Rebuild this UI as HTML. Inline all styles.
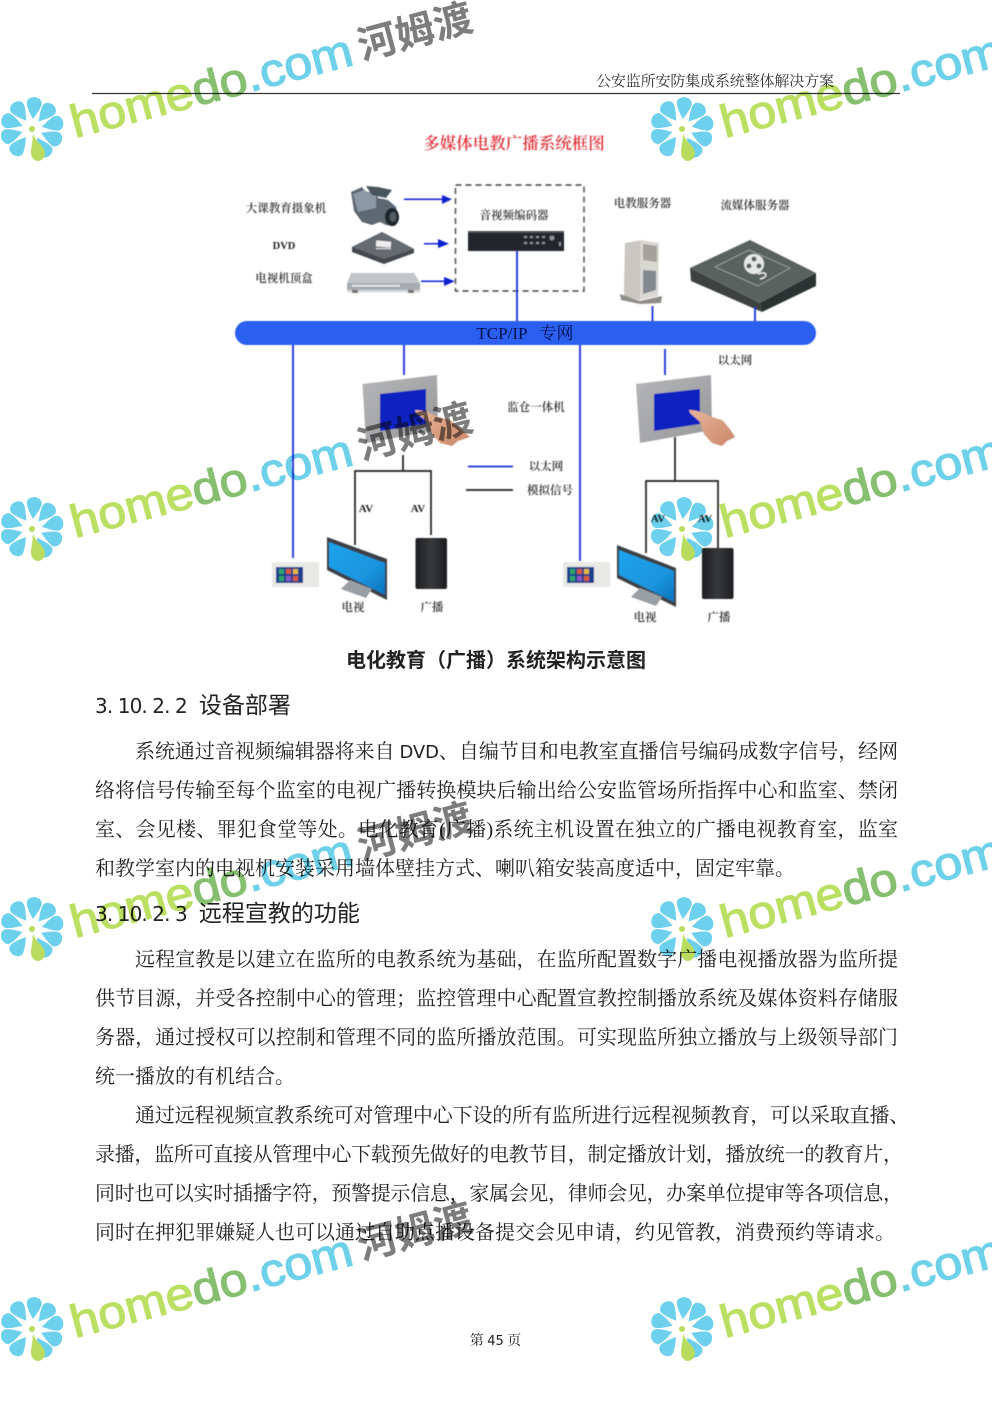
<!DOCTYPE html>
<html lang="zh"><head><meta charset="utf-8"><title>电化教育（广播）系统架构示意图</title>
<style>
html,body{margin:0;padding:0;background:#fff}
#p{position:relative;width:992px;height:1403px;overflow:hidden;background:#fff}
.l{position:absolute;left:95px;width:803px;height:30px;font:20px/30px "Liberation Serif","Noto Serif CJK SC",serif;color:#222;white-space:nowrap;text-align:justify;text-align-last:justify}
.l.n{text-align:left;text-align-last:left}
.l.i{left:135px;width:763px}
.l b{font:400 18px "DejaVu Sans",sans-serif}
.h{position:absolute;left:95px;height:30px;font:23px/30px "Noto Sans CJK SC",sans-serif;color:#222;white-space:nowrap}
.h span{font:20px "DejaVu Sans",sans-serif;letter-spacing:-.9px;margin-right:12px}
svg{position:absolute;left:0;top:0}
#wm{mix-blend-mode:multiply}
.t{font-family:"Liberation Serif","Noto Serif CJK SC",serif;font-weight:600;font-size:11.5px;fill:#333;text-anchor:middle}
.a{font-weight:700;fill:#222;font-size:11px}
.w{font-family:"Liberation Sans",sans-serif;font-size:46px;fill:#bbdf63;stroke:#bbdf63;stroke-width:1.2}
.k{font-family:"Noto Sans CJK SC",sans-serif;font-weight:700;font-size:39px;fill:#7d7d7d}
</style></head><body><div id="p">
<svg width="992" height="1403" viewBox="0 0 992 1403">
<defs><filter id="b" x="-5%" y="-5%" width="110%" height="110%"><feGaussianBlur stdDeviation="0.45"/></filter>
<linearGradient id="tv" x1="0" y1="0" x2="1" y2="1"><stop offset="0" stop-color="#1ba3ec"/><stop offset=".65" stop-color="#1a94de"/><stop offset="1" stop-color="#0b72bd"/></linearGradient>
<linearGradient id="sp" x1="0" y1="0" x2="1" y2="0"><stop offset="0" stop-color="#1c1e20"/><stop offset=".5" stop-color="#383a3c"/><stop offset="1" stop-color="#1c1e20"/></linearGradient>
<linearGradient id="pn" x1="0" y1="0" x2="1" y2="1"><stop offset="0" stop-color="#b4b5b7"/><stop offset="1" stop-color="#98999b"/></linearGradient>
<linearGradient id="hd" x1="0" y1="0" x2="1" y2="1"><stop offset="0" stop-color="#e8b79c"/><stop offset="1" stop-color="#c98566"/></linearGradient></defs>
<line x1="92" y1="93.5" x2="900" y2="93.5" stroke="#333" stroke-width="1.2"/>
<text x="596" y="86" font-family="'Liberation Serif','Noto Serif CJK SC',serif" font-size="15" fill="#333" textLength="238">公安监所安防集成系统整体解决方案</text>
<g filter="url(#b)">
<text x="514" y="149" text-anchor="middle" font-family="'Liberation Serif','Noto Serif CJK SC',serif" font-weight="600" font-size="16.5" fill="#e0343c">多媒体电教广播系统框图</text>
<text class="t" x="286" y="212">大课教育摄象机</text>
<text class="t" x="284" y="249" style="font-size:10.5px;font-weight:700;fill:#222">DVD</text>
<text class="t" x="284" y="282">电视机顶盒</text>
<text class="t" x="514" y="219">音视频编码器</text>
<text class="t" x="642.500" y="207">电教服务器</text>
<text class="t" x="755" y="209">流媒体服务器</text>
<text class="t" x="735" y="364">以太网</text>
<text class="t" x="536" y="411">监仓一体机</text>
<text class="t" x="546" y="470">以太网</text>
<text class="t" x="550" y="494">模拟信号</text>
<text class="t" x="353" y="611">电视</text><text class="t" x="432" y="611">广播</text>
<text class="t" x="645" y="621">电视</text><text class="t" x="719" y="621">广播</text>
<text class="t a" x="366" y="512">AV</text><text class="t a" x="418" y="512">AV</text>
<text class="t a" x="658" y="522">AV</text><text class="t a" x="705" y="522">AV</text>
<rect x="455.500" y="185" width="128.500" height="106" fill="none" stroke="#444" stroke-width="1.4" stroke-dasharray="6 4"/>
<g fill="#1020d0">
<rect x="404" y="198.500" width="40" height="1.500"/><path d="M442,195 L452,199.300 L442,204Z"/>
<rect x="424" y="243" width="16" height="1.500"/><path d="M438,239 L449,243.700 L438,248Z"/>
<rect x="421" y="280.500" width="26" height="1.500"/><path d="M444,277 L455,281.300 L444,286Z"/>
</g>
<!-- camera -->
<path d="M351,192 L362,187 L366,193 L376,190 L378,198 L388,200 L396,207 L399,219 L395,226 L386,225 L380,222 L372,225 L362,222 L354,211Z" fill="#5d6872"/>
<path d="M353,194 L364,190 L376,196 L376,208 L358,212Z" fill="#8b98a6"/>
<path d="M366,186 L378,187 L392,190 L386,198 L372,195Z" fill="#4a545d"/>
<ellipse cx="392" cy="217" rx="7" ry="9" fill="#1f252b"/><ellipse cx="393" cy="217" rx="3.500" ry="5" fill="#555b61"/>
<!-- dvd -->
<path d="M352,247 L382,232 L414,249 L414,253 L384,264 L352,252Z" fill="#45494e"/><path d="M352,247 L382,232 L414,249 L384,259Z" fill="#666b71"/>
<rect x="376" y="241" width="15" height="6" fill="#eee" transform="rotate(5 383 244)"/><rect x="376" y="248" width="15" height="1.200" fill="#ddd"/>
<!-- stb -->
<path d="M351,273 L414,273 L420,283 L347,283Z" fill="#c2c6ca"/><rect x="347" y="283" width="73" height="7" fill="#a6abb0"/><rect x="347" y="290" width="73" height="2.500" fill="#d8dadc"/><rect x="352" y="285" width="48" height="1.500" fill="#eee"/><rect x="352" y="290" width="6" height="3" fill="#777"/><rect x="408" y="290" width="6" height="3" fill="#777"/>
<!-- encoder -->
<rect x="468" y="231" width="96" height="20" fill="#23262b"/><rect x="468" y="231" width="96" height="2" fill="#4b4f57"/>
<g fill="#8a8f98"><rect x="524" y="236" width="3" height="2"/><rect x="530" y="236" width="3" height="2"/><rect x="536" y="236" width="3" height="2"/><rect x="542" y="236" width="3" height="2"/><rect x="524" y="242" width="3" height="2"/><rect x="530" y="242" width="3" height="2"/><rect x="536" y="242" width="3" height="2"/><rect x="542" y="242" width="3" height="2"/><circle cx="552" cy="238" r="2.500"/><rect x="559" y="242" width="2" height="4"/></g>
<!-- server -->
<path d="M625,243 L641,240 L659,243 L658,296 L640,300 L624,296Z" fill="#dad8d2"/>
<path d="M625,243 L640,241 L640,300 L624,296Z" fill="#c9c7c1"/>
<path d="M643,244 L657,246 L657,262 L643,260Z" fill="#a4a29d"/>
<path d="M643,270 L656,271 L656,290 L643,294Z" fill="#83898e"/>
<path d="M620,294 L640,301 L662,296 L661,303 L640,304 L621,300Z" fill="#8f8d87"/>
<!-- stream server -->
<path d="M690,268 L750,240 L816,273 L760,303Z" fill="#5a6260"/>
<path d="M690,268 L760,303 L762,312 L691,281Z" fill="#3c4341"/>
<path d="M760,303 L816,273 L816,286 L762,312Z" fill="#2c3230"/>
<path d="M715,267 L749,250 L790,268 L758,286Z" fill="none" stroke="#a9b0ae" stroke-width=".7"/>
<circle cx="754" cy="264" r="10" fill="#e6e8e8"/><circle cx="754" cy="259" r="2.500" fill="#5a6260"/><circle cx="749" cy="266" r="2.500" fill="#5a6260"/><circle cx="759" cy="266" r="2.500" fill="#5a6260"/>
<path d="M758,274 C768,270 768,278 760,279" fill="none" stroke="#e6e8e8" stroke-width="1.500"/>
<!-- connectors -->
<g stroke="#1c2fd8" stroke-width="1.800" fill="none">
<path d="M517,251V322M652.500,306V322M755,307V322M293,345V558M404,345V375M580,345V561M665,349V375M468,466.500H513"/>
</g>
<g stroke="#222" stroke-width="1.700" fill="none">
<path d="M403,455V471M355,545V471H431V535M675,437V481M646,553V481H718V548M466,490H513"/>
</g>
<rect x="235" y="321" width="581" height="24" rx="12" fill="#2a5ef0"/>
<!-- panels -->
<path d="M362.500,384 L437,375 L438,430 L366,443Z" fill="url(#pn)"/><path d="M380,394 L426,389 L426,424 L380,431Z" fill="#0d22c0"/>
<path d="M415,410 C424,410 432,414 438,417 L450,420 C458,426 464,432 470,437 L458,441 L452,446 L440,443 L432,434 L428,422 L416,413Z" fill="url(#hd)"/>
<path d="M636,384 L711,375 L712,430 L640,443Z" fill="url(#pn)"/><path d="M654,394 L700,389 L700,424 L654,431Z" fill="#0d22c0"/>
<path d="M689,410 C698,410 706,414 712,417 L722,420 C728,426 732,432 735,437 L727,441 L722,446 L712,443 L704,434 L700,422 L690,413Z" fill="url(#hd)"/>
<!-- TVs -->
<path d="M327,537 L387,559 L387,600 L327,570Z" fill="#3a4146"/><path d="M329,542 L385,563 L385,595 L329,567Z" fill="url(#tv)"/>
<path d="M341,589 L350,580 L372,589 L366,598Z" fill="#9a9fa4"/>
<path d="M617,545 L676,568 L676,607 L617,578Z" fill="#3a4146"/><path d="M619,550 L674,571 L674,602 L619,575Z" fill="url(#tv)"/>
<path d="M631,597 L640,588 L662,597 L656,606Z" fill="#9a9fa4"/>
<!-- speakers -->
<rect x="415.500" y="538" width="31.500" height="51" rx="2" fill="url(#sp)"/>
<rect x="702" y="548" width="31.500" height="51" rx="2" fill="url(#sp)"/>
<!-- intercoms -->
<rect x="272" y="562" width="47" height="25" fill="#e8e8e4"/><rect x="276" y="567" width="27" height="16" fill="#1d3f8e"/>
<rect x="279" y="569" width="5" height="5" fill="#2ea56a"/><rect x="286" y="569" width="5" height="5" fill="#d85a3c"/><rect x="293" y="569" width="5" height="5" fill="#e2b83a"/>
<rect x="279" y="576" width="5" height="5" fill="#2ea56a"/><rect x="286" y="576" width="5" height="5" fill="#8a5ac4"/><rect x="293" y="576" width="5" height="5" fill="#d85a3c"/>
<rect x="563" y="562" width="47" height="25" fill="#e8e8e4"/><rect x="567" y="567" width="27" height="16" fill="#1d3f8e"/>
<rect x="570" y="569" width="5" height="5" fill="#2ea56a"/><rect x="577" y="569" width="5" height="5" fill="#d85a3c"/><rect x="584" y="569" width="5" height="5" fill="#e2b83a"/>
<rect x="570" y="576" width="5" height="5" fill="#2ea56a"/><rect x="577" y="576" width="5" height="5" fill="#8a5ac4"/><rect x="584" y="576" width="5" height="5" fill="#d85a3c"/>
</g>
<text x="525" y="339" text-anchor="middle" font-family="'Liberation Serif','Noto Serif CJK SC',serif" font-size="17" fill="#06104f" xml:space="preserve">TCP/IP   专网</text>
<text x="495.500" y="1345" text-anchor="middle" font-family="'Liberation Serif','Noto Serif CJK SC',serif" font-size="14" fill="#222">第 <tspan font-family="'DejaVu Sans',sans-serif" font-size="13">45</tspan> 页</text>
</svg>

<div style="position:absolute;left:346px;top:644px;width:300px;height:30px;font:700 20px/30px 'Noto Sans CJK SC',sans-serif;color:#222;white-space:nowrap">电化教育（广播）系统架构示意图</div>
<div class="h" style="top:688px"><span>3. 10. 2. 2</span>设备部署</div>
<div class="l i" style="top:737px;letter-spacing:-.15px">系统通过音视频编辑器将来自 <b>DVD</b>、自编节目和电教室直播信号编码成数字信号，经网</div>
<div class="l" style="top:776px">络将信号传输至每个监室的电视广播转换模块后输出给公安监管场所指挥中心和监室、禁闭</div>
<div class="l" style="top:815px">室、会见楼、罪犯食堂等处。电化教育(广播)系统主机设置在独立的广播电视教育室，监室</div>
<div class="l n" style="top:854px">和教学室内的电视机安装采用墙体壁挂方式、喇叭箱安装高度适中，固定牢靠。</div>
<div class="h" style="top:896px"><span>3. 10. 2. 3</span>远程宣教的功能</div>
<div class="l i" style="top:945px">远程宣教是以建立在监所的电教系统为基础，在监所配置数字广播电视播放器为监所提</div>
<div class="l" style="top:984px">供节目源，并受各控制中心的管理；监控管理中心配置宣教控制播放系统及媒体资料存储服</div>
<div class="l" style="top:1023px">务器，通过授权可以控制和管理不同的监所播放范围。可实现监所独立播放与上级领导部门</div>
<div class="l n" style="top:1062px">统一播放的有机结合。</div>
<div class="l n" style="top:1101px;left:135px;letter-spacing:-.15px">通过远程视频宣教系统可对管理中心下设的所有监所进行远程视频教育，可以采取直播、</div>
<div class="l n" style="top:1140px;letter-spacing:-.3px">录播，监所可直接从管理中心下载预先做好的电教节目，制定播放计划，播放统一的教育片，</div>
<div class="l n" style="top:1179px;letter-spacing:-.3px">同时也可以实时插播字符，预警提示信息，家属会见，律师会见，办案单位提审等各项信息，</div>
<div class="l n" style="top:1218px">同时在押犯罪嫌疑人也可以通过自助点播设备提交会见申请，约见管教，消费预约等请求。</div>

<svg id="wm" width="992" height="1403" viewBox="0 0 992 1403">
<defs>
<path id="pt" d="M0,-10 C-3,-15 -7.500,-22 -7.500,-26 C-7.500,-30 -3,-32 0,-32 C3,-32 7.500,-30 7.500,-26 C7.500,-22 3,-15 0,-10Z" fill="#6dd0ec"/>
<g id="lg">
<use href="#pt" transform="translate(32,129) rotate(5)"/>
<use href="#pt" transform="translate(32,129) rotate(41)"/>
<use href="#pt" transform="translate(32,129) rotate(77)"/>
<use href="#pt" transform="translate(32,129) rotate(113)"/>
<use href="#pt" transform="translate(32,129) rotate(149)"/>
<use href="#pt" transform="translate(32,129) rotate(217)"/>
<use href="#pt" transform="translate(32,129) rotate(253)"/>
<use href="#pt" transform="translate(32,129) rotate(289)"/>
<use href="#pt" transform="translate(32,129) rotate(325)"/>
<path d="M33,133 C35,142 45,146 45,153 C45,158 41,161 38,161 C34,161 31,157 31,153 C31,147 33,140 33,133Z" fill="#b9dc5e"/>
<circle cx="32" cy="129" r="3" fill="#b9dc5e"/>
</g>
</defs>
<g>
<use href="#lg"/>
<text class="w" transform="translate(75,138) rotate(-14.7) scale(1.09,1)">home<tspan fill="#87bf70" stroke="#87bf70">do</tspan><tspan fill="#6fd0ea" stroke="#6fd0ea">.com</tspan></text>
<text class="k" transform="translate(362,60) rotate(-15)">河姆渡</text>
<use href="#lg" x="650"/>
<text class="w" transform="translate(725,138) rotate(-14.7) scale(1.09,1)">home<tspan fill="#87bf70" stroke="#87bf70">do</tspan><tspan fill="#6fd0ea" stroke="#6fd0ea">.com</tspan></text>
</g>
<g transform="translate(0,400)">
<use href="#lg"/>
<text class="w" transform="translate(75,138) rotate(-14.7) scale(1.09,1)">home<tspan fill="#87bf70" stroke="#87bf70">do</tspan><tspan fill="#6fd0ea" stroke="#6fd0ea">.com</tspan></text>
<text class="k" transform="translate(362,60) rotate(-15)">河姆渡</text>
<use href="#lg" x="650"/>
<text class="w" transform="translate(725,138) rotate(-14.7) scale(1.09,1)">home<tspan fill="#87bf70" stroke="#87bf70">do</tspan><tspan fill="#6fd0ea" stroke="#6fd0ea">.com</tspan></text>
</g>
<g transform="translate(0,800)">
<use href="#lg"/>
<text class="w" transform="translate(75,138) rotate(-14.7) scale(1.09,1)">home<tspan fill="#87bf70" stroke="#87bf70">do</tspan><tspan fill="#6fd0ea" stroke="#6fd0ea">.com</tspan></text>
<text class="k" transform="translate(362,60) rotate(-15)">河姆渡</text>
<use href="#lg" x="650"/>
<text class="w" transform="translate(725,138) rotate(-14.7) scale(1.09,1)">home<tspan fill="#87bf70" stroke="#87bf70">do</tspan><tspan fill="#6fd0ea" stroke="#6fd0ea">.com</tspan></text>
</g>
<g transform="translate(0,1200)">
<use href="#lg"/>
<text class="w" transform="translate(75,138) rotate(-14.7) scale(1.09,1)">home<tspan fill="#87bf70" stroke="#87bf70">do</tspan><tspan fill="#6fd0ea" stroke="#6fd0ea">.com</tspan></text>
<text class="k" transform="translate(362,60) rotate(-15)">河姆渡</text>
<use href="#lg" x="650"/>
<text class="w" transform="translate(725,138) rotate(-14.7) scale(1.09,1)">home<tspan fill="#87bf70" stroke="#87bf70">do</tspan><tspan fill="#6fd0ea" stroke="#6fd0ea">.com</tspan></text>
</g>
</svg>
</div></body></html>
